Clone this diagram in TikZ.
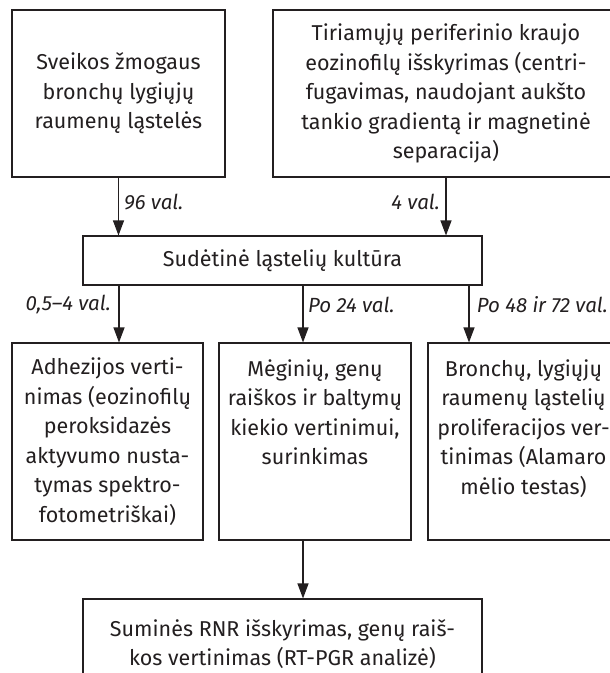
\documentclass[tikz,border=0pt]{standalone}
\usepackage{fontspec}
\setmainfont{Fira Sans}
\usepackage{xcolor}
\usepackage{tikz}
\usetikzlibrary{arrows.meta}

\begin{document}
\begin{tikzpicture}[x = 1pt,
                    y = -1pt]

  \useasboundingbox (0,0) rectangle (610,673);
  \fill[white] (0,0) rectangle (610,673);
  \clip (0,0) rectangle (610,673);


  % COLORS
  \definecolor{ink_fc}{rgb}{ 0.137,0.122,0.125 }


  % STYLES
  \tikzstyle{boxstyle_fc} = [draw=ink_fc, text=ink_fc, line width=1.1 pt, align=center, inner sep=0pt, font=\fontsize{21.5}{29.5}\selectfont]
  \tikzstyle{timestyle_fc} = [text=ink_fc, inner sep=0pt, font=\fontsize{20.5}{25}\selectfont\itshape]
  \tikzstyle{arrowstyle_fc} = [draw=ink_fc, line width=1.1 pt, -{Triangle[length=15pt, width=11pt]}]


  % DEF POINTS
  \coordinate (col1_fc) at (119, 0);
  \coordinate (col2_fc) at (303, 0);
  \coordinate (col3_fc) at (469, 0);


  % BOXES
  \node[boxstyle_fc, minimum width=213, minimum height=167] (cells_fc) at (118.5, 93.5)
    {Sveikos žmogaus\\bronchų lygiųjų\\raumenų ląstelės};
  \node[boxstyle_fc, minimum width=346, minimum height=167] (eos_fc) at (446, 93.5)
    {Tiriamųjų periferinio kraujo\\eozinofilų išskyrimas (centri-\\fugavimas, naudojant aukšto\\tankio gradientą ir magnetinė\\separacija)};
  \node[boxstyle_fc, minimum width=399, minimum height=49] (culture_fc) at (282.5, 260.5)
    {Sudėtinė ląstelių kultūra};
  \node[boxstyle_fc, minimum width=191, minimum height=197] (adh_fc) at (107.5, 441.5)
    {Adhezijos verti-\\nimas (eozinofilų\\peroksidazės\\aktyvumo nusta-\\tymas spektro-\\fotometriškai)};
  \node[boxstyle_fc, minimum width=192, minimum height=197] (samp_fc) at (315, 441.5)
    {Mėginių, genų\\raiškos ir baltymų\\kiekio vertinimui,\\surinkimas\\~\\~};
  \node[boxstyle_fc, minimum width=191, minimum height=197] (prol_fc) at (523.5, 441.5)
    {Bronchų, lygiųjų\\raumenų ląstelių\\proliferacijos ver-\\tinimas (Alamaro\\mėlio testas)\\~};
  \node[boxstyle_fc, minimum width=399, minimum height=90] (rna_fc) at (282.5, 644)
    {Suminės RNR išskyrimas, genų raiš-\\kos vertinimas (RT-PGR analizė)};


  % TIMES
  \node[timestyle_fc, anchor=west] (t96_fc) at (124, 202) {96 val.};
  \node[timestyle_fc, anchor=east] (t4_fc) at (440, 202) {4 val.};
  \node[timestyle_fc, anchor=east] (t05_fc) at (111, 305) {0,5--4 val.};
  \node[timestyle_fc, anchor=west] (t24_fc) at (308, 305) {Po 24 val.};
  \node[timestyle_fc, anchor=east] (t48_fc) at (608, 305) {Po 48 ir 72 val.};


  % ARROWS
  \draw[arrowstyle_fc] (cells_fc.south) -- (culture_fc.north -| cells_fc.south);
  \draw[arrowstyle_fc] (eos_fc.south) -- (culture_fc.north -| eos_fc.south);
  \draw[arrowstyle_fc] (culture_fc.south -| col1_fc) -- (adh_fc.north -| col1_fc);
  \draw[arrowstyle_fc] (culture_fc.south -| col2_fc) -- (samp_fc.north -| col2_fc);
  \draw[arrowstyle_fc] (culture_fc.south -| col3_fc) -- (prol_fc.north -| col3_fc);
  \draw[arrowstyle_fc] (samp_fc.south -| col2_fc) -- (rna_fc.north -| col2_fc);

\end{tikzpicture}
\end{document}
